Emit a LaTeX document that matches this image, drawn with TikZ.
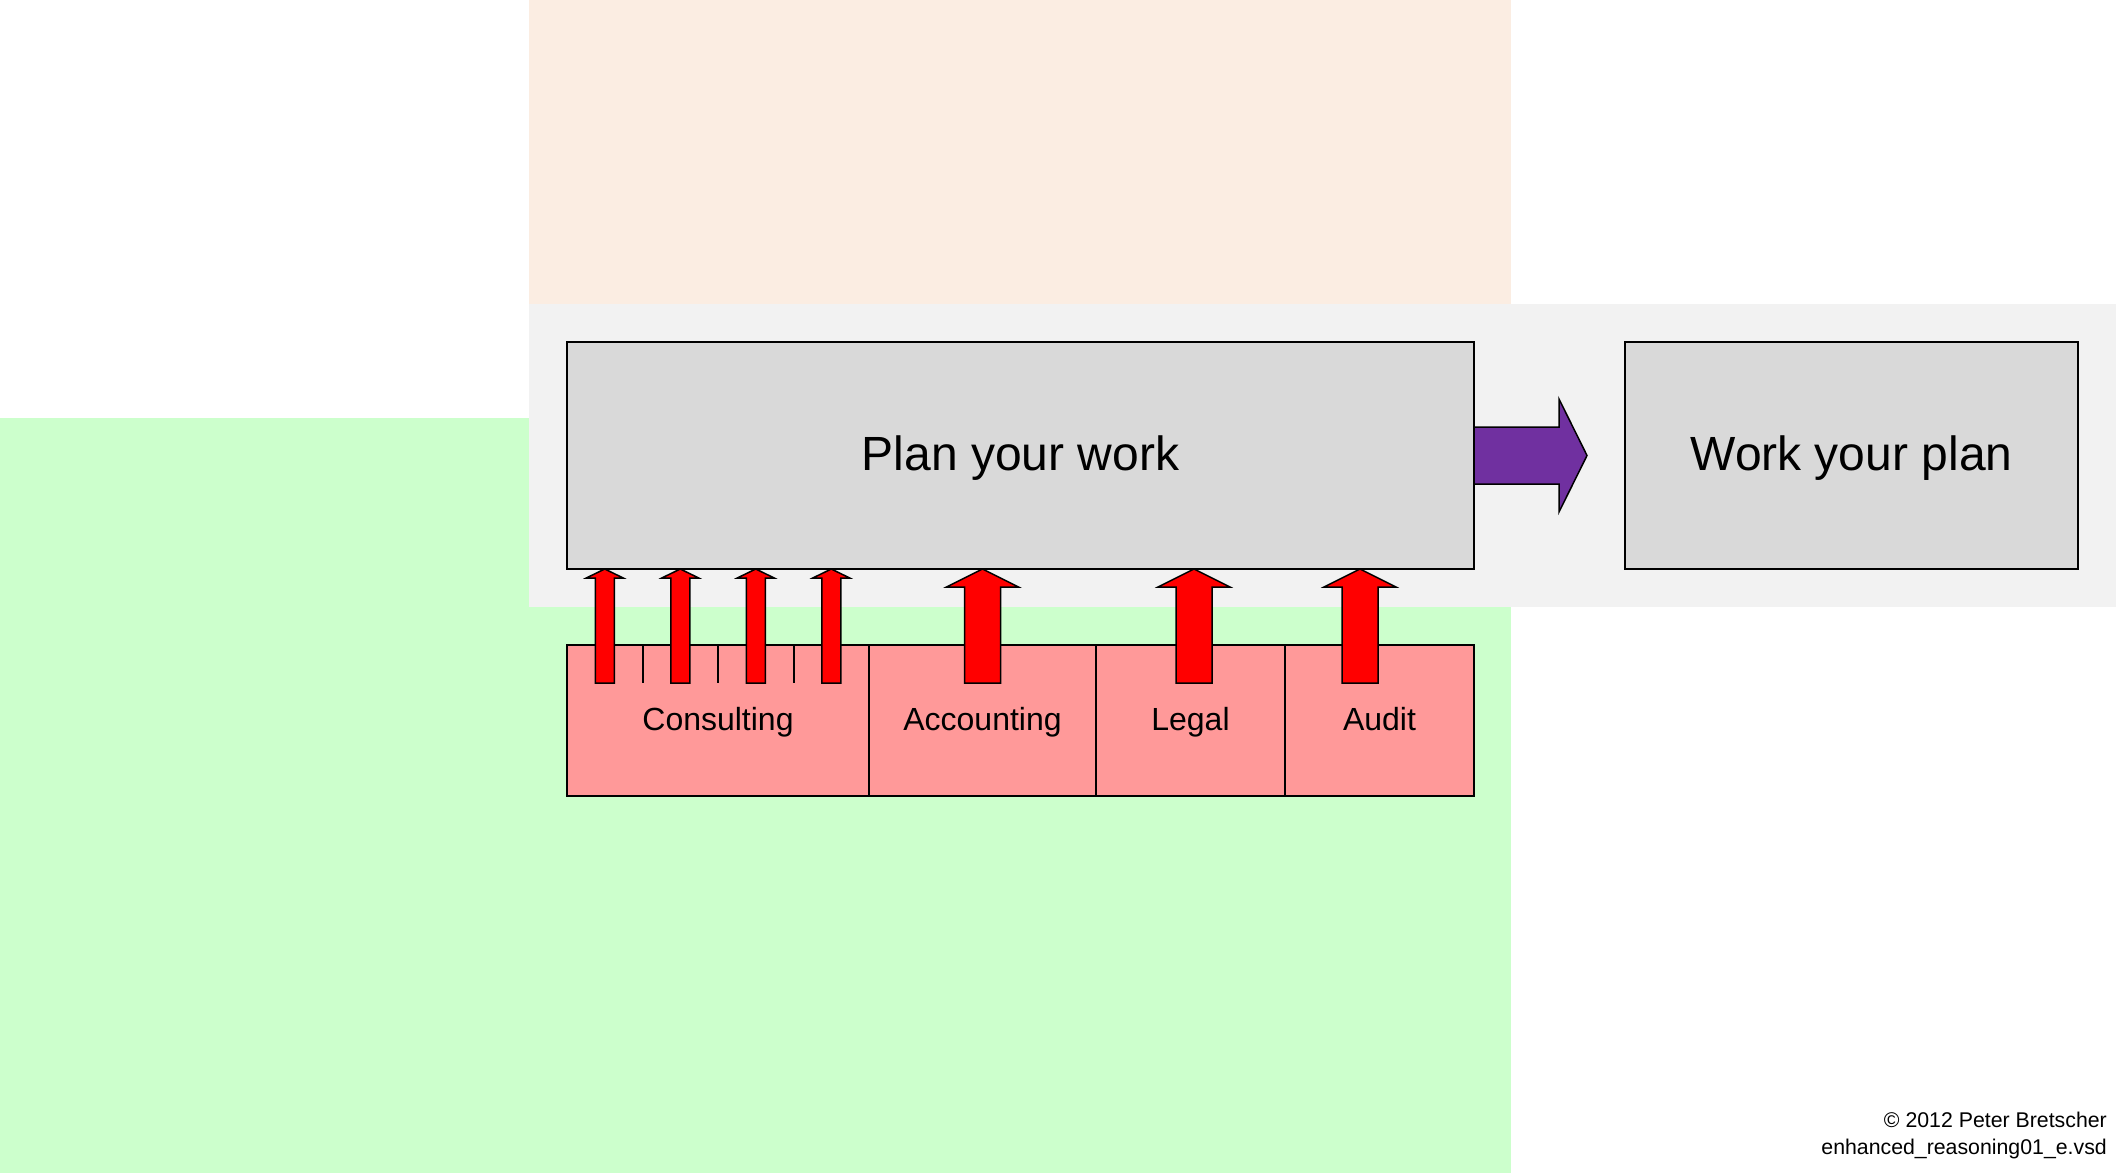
\documentclass[tikz,border=0pt]{standalone}
\usepackage{fontspec}
\setmainfont{Liberation Sans}
\definecolor{Peach}{RGB}{251, 237, 226}
\definecolor{Band}{RGB}{242, 242, 242}
\definecolor{Mint}{RGB}{204, 255, 204}
\definecolor{BoxGray}{RGB}{217, 217, 217}
\definecolor{Salmon}{RGB}{255, 153, 153}
\definecolor{Plum}{RGB}{112, 48, 160}
\usepackage{tikz}
\usetikzlibrary{positioning, calc}

% block arrow from a foot coordinate up to the bottom of the plan box
\newcommand{\liftarrow}[4]{%
  \draw[lift] ($(#1)+(-#2,0)$) -- ($(#1 |- plan.south)+(-#2,#4)$)
    -- ($(#1 |- plan.south)+(-#3,#4)$) -- (#1 |- plan.south)
    -- ($(#1 |- plan.south)+(#3,#4)$) -- ($(#1 |- plan.south)+(#2,#4)$)
    -- ($(#1)+(#2,0)$) -- cycle;}

\begin{document}
\begin{tikzpicture}[
            x=1pt, y=-1pt,
            stage/.style={rectangle, draw=black, fill=BoxGray, line width=2pt, outer sep=0pt,
                          minimum height=227pt, text height=34pt, text depth=4pt,
                          font=\fontsize{48}{58}\selectfont},
            dept/.style={rectangle, draw=black, fill=Salmon, line width=2pt, outer sep=0pt,
                         minimum height=151pt, text height=23pt, text depth=4pt,
                         font=\fontsize{32}{38}\selectfont},
            lift/.style={draw=black, fill=red, line width=1.5pt, line join=miter},
            push/.style={draw=black, fill=Plum, line width=1.5pt},
            tick/.style={draw=black, line width=2pt}
        ]
            \useasboundingbox (0,0) rectangle (2116,1173);
            % background areas
            \fill[Peach] (529,0) rectangle (1511,304);
            \fill[Mint] (0,418) rectangle (1511,1173);
            \fill[Band] (529,304) rectangle (2116,607);

            \node[stage, minimum width=907pt, anchor=north west] (plan) at (567,342) {Plan your work};
            \node[stage, minimum width=453pt, right=151pt of plan] (work) {Work your plan};

            \draw[push] ($(plan.east)+(0,-28.5)$) -- ++(85,0) -- ++(0,-28) -- ++(28,56.5)
                -- ++(-28,56.5) -- ++(0,-28) -- ++(-85,0) -- cycle;

            \node[dept, minimum width=302pt, anchor=north west] (consulting) at (567,645) {Consulting};
            \node[dept, minimum width=227pt, right=0pt of consulting] (accounting) {Accounting};
            \node[dept, minimum width=189pt, right=0pt of accounting] (legal) {Legal};
            \node[dept, minimum width=189pt, right=0pt of legal] (audit) {Audit};

            \foreach \k in {1,2,3}
                \draw[tick] ($(consulting.north west)+(\k*75.5,0)$) -- ++(0,38);

            \foreach \k in {0,...,3} {
                \coordinate (foot) at ($(consulting.north west)+(37.75+\k*75.5,38)$);
                \liftarrow{foot}{9.5}{18.5}{9}
            }
            \coordinate (footacc) at ($(accounting.north)+(0,38)$);
            \coordinate (footlegal) at ($(legal.north)+(3.5,38)$);
            \coordinate (footaudit) at ($(audit.north)+(-19.5,38)$);
            \liftarrow{footacc}{18}{36}{18}
            \liftarrow{footlegal}{18}{36}{18}
            \liftarrow{footaudit}{18}{36}{18}

            \node[anchor=north east, align=right, inner sep=0pt,
                  font=\fontsize{21.3}{27}\selectfont] (credit) at (2107,1112)
                  {© 2012 Peter Bretscher\\enhanced\_reasoning01\_e.vsd};
        \end{tikzpicture}
\end{document}
